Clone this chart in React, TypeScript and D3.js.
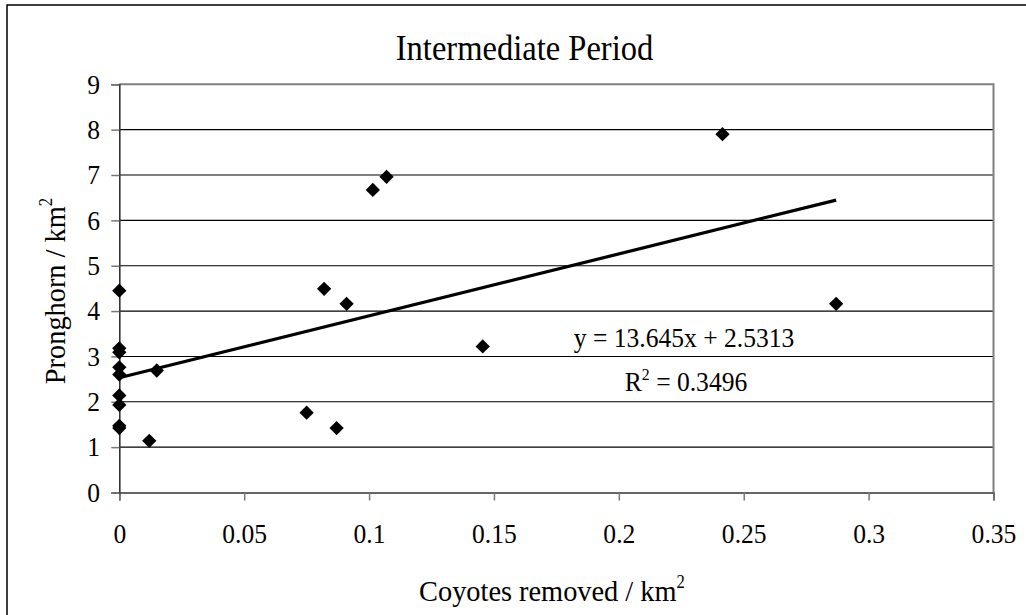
import * as d3 from "d3";
import { useEffect, useRef } from "react";

// coyotes removed / km2 (x) vs pronghorn / km2 (y)
const coyotes = [
  0, 0, 0, 0, 0, 0, 0, 0, 0, 0.012, 0.015, 0.075, 0.082, 0.087, 0.091, 0.1015, 0.107, 0.1455,
  0.2415, 0.287,
];
const pronghorn = [
  4.45, 3.18, 3.09, 2.76, 2.6, 2.14, 1.93, 1.47, 1.42, 1.14, 2.69, 1.76, 4.49, 1.42, 4.16, 6.67,
  6.96, 3.22, 7.9, 4.16,
];
const xTicks = [0, 0.05, 0.1, 0.15, 0.2, 0.25, 0.3, 0.35];
const yTicks = [0, 1, 2, 3, 4, 5, 6, 7, 8, 9];
const slope = 13.645;
const intercept = 2.5313;
const rSquared = "0.3496";

const FONT = "'Liberation Serif', 'Times New Roman', serif";
const SQUEEZE = 0.93; // the original text is a little narrow

export default function App() {
  const svgRef = useRef<SVGSVGElement | null>(null);

  useEffect(() => {
    if (!svgRef.current) return;
    const svg = d3.select(svgRef.current);
    const width = 1026;
    const height = 615;
    const margin = { top: 84.3, right: 32.5, bottom: 122.5, left: 119.3 };

    svg.selectAll("*").remove();
    svg.attr("viewBox", `0 0 ${width} ${height}`);

    // outer chart frame
    svg
      .append("rect")
      .attr("x", 7)
      .attr("y", 5)
      .attr("width", 1040)
      .attr("height", 640)
      .attr("fill", "#fff")
      .attr("stroke", "#000")
      .attr("stroke-width", 1.5);

    const x = d3
      .scaleLinear()
      .domain([0, 0.35])
      .range([margin.left, width - margin.right]);
    const y = d3
      .scaleLinear()
      .domain([0, 9])
      .range([height - margin.bottom, margin.top]);

    // gridlines
    svg
      .append("g")
      .selectAll("line")
      .data(yTicks.filter((t) => t > 0 && t < 9))
      .join("line")
      .attr("x1", x(0))
      .attr("x2", x(0.35))
      .attr("y1", (d) => y(d))
      .attr("y2", (d) => y(d))
      .attr("stroke", "#000")
      .attr("stroke-width", 1.1);

    // plot area border (top + right)
    svg
      .append("path")
      .attr("d", `M${x(0)},${y(9)}H${x(0.35)}V${y(0)}`)
      .attr("fill", "none")
      .attr("stroke", "#808080")
      .attr("stroke-width", 2);

    const xAxis = d3
      .axisBottom(x)
      .tickValues(xTicks)
      .tickSize(8)
      .tickFormat((d) => String(+d));
    const yAxis = d3.axisLeft(y).tickValues(yTicks).tickSize(8);

    const xg = svg
      .append("g")
      .attr("transform", `translate(0,${y(0)})`)
      .call(xAxis as any);
    const yg = svg
      .append("g")
      .attr("transform", `translate(${x(0)},0)`)
      .call(yAxis as any);

    [xg, yg].forEach((g) => {
      g.attr("font-family", FONT).attr("font-size", 27.5);
      g.select(".domain").attr("stroke", "#333").attr("stroke-width", 1.6);
      g.selectAll(".tick line").attr("stroke", "#777").attr("stroke-width", 1.5);
      g.selectAll("text")
        .attr("fill", "#000")
        .attr("font-family", FONT)
        .attr("font-size", 27.5)
        .attr("transform", `scale(${SQUEEZE},1)`);
    });
    xg.selectAll("text").attr("x", 0).attr("y", 50.5).attr("dy", 0);
    yg.selectAll("text").attr("x", -19.3 / SQUEEZE);

    // trend line over the data range
    const [xMin, xMax] = d3.extent(coyotes) as [number, number];
    svg
      .append("line")
      .attr("x1", x(xMin))
      .attr("y1", y(slope * xMin + intercept))
      .attr("x2", x(xMax))
      .attr("y2", y(slope * xMax + intercept))
      .attr("stroke", "#000")
      .attr("stroke-width", 3.2);

    // diamond markers
    const diamond = d3.symbol(d3.symbolDiamond2, 130);
    svg
      .append("g")
      .selectAll("path")
      .data(coyotes.map((c, i) => [c, pronghorn[i]]))
      .join("path")
      .attr("d", diamond as any)
      .attr("transform", (d) => `translate(${x(d[0])},${y(d[1])})`)
      .attr("fill", "#000");

    const label = (cx: number, cy: number, size: number, rotate = 0) =>
      svg
        .append("text")
        .attr("transform", `translate(${cx},${cy}) rotate(${rotate}) scale(${SQUEEZE},1)`)
        .attr("text-anchor", "middle")
        .attr("font-family", FONT)
        .attr("font-size", size);

    // title
    label(524.5, 60, 35).text("Intermediate Period");

    // x-axis title
    const xt = label(552, 601, 30.5);
    xt.append("tspan").text("Coyotes removed / km");
    xt.append("tspan").attr("dy", -13).attr("font-size", 18).text("2");

    // y-axis title
    const yt = label(65, 291, 30.5, -90);
    yt.append("tspan").text("Pronghorn / km");
    yt.append("tspan").attr("dy", -13).attr("font-size", 18).text("2");

    // regression equation
    label(684, 347, 27.5).text(`y = ${slope}x + ${intercept}`);
    const r2 = label(686, 391, 27.5);
    r2.append("tspan").text("R");
    r2.append("tspan").attr("dy", -11).attr("font-size", 17).text("2");
    r2.append("tspan").attr("dy", 11).text(" = " + rSquared);
  }, []);

  return (
    <svg
      ref={svgRef}
      width={1026}
      height={615}
      style={{ position: "absolute", left: 0, top: 0, background: "#fff" }}
    />
  );
}
